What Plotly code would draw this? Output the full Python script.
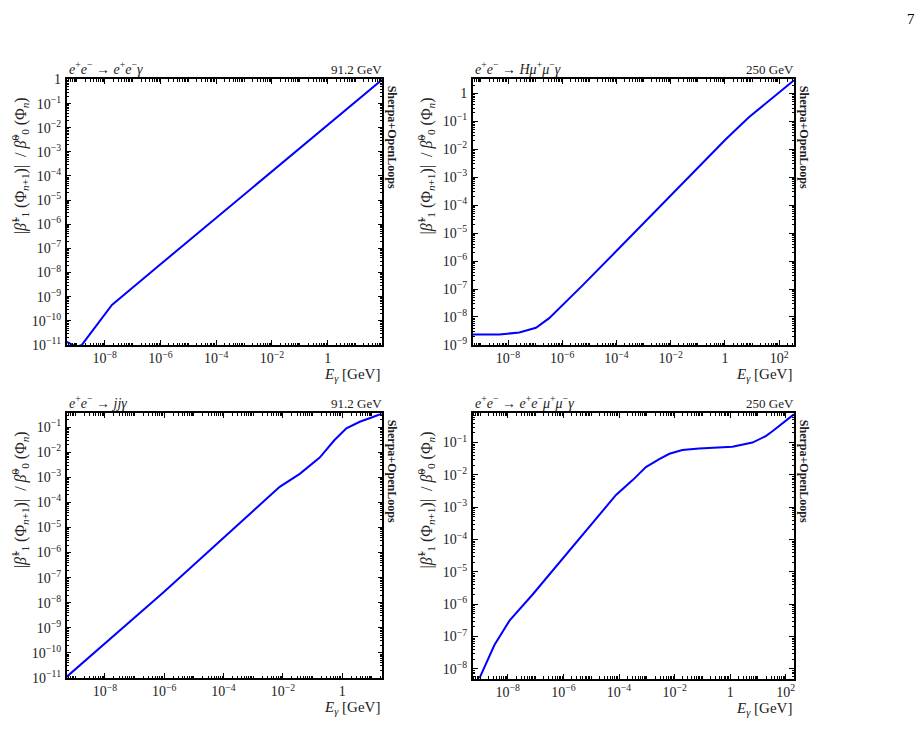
import plotly.graph_objects as go
import numpy as np

# ---------------- data ----------------
p1_E = [4.3e-10, 9.8e-10, 1.5e-9, 1.8e-8, 1e-6, 1e-2, 1.0, 91.2]
p1_R = [1.35e-11, 8.3e-12, 1.0e-11, 4.5e-10, 2.2e-8, 1.55e-4, 1.3e-2, 1.0]

p2_E = [5.0e-10, 4.8e-9, 2.6e-8, 1.07e-7, 3.3e-7, 1.38e-6, 5.6e-6, 9.5e-5, 6.6e-3, 0.11, 1.07, 7.6, 55.0, 350.0]
p2_R = [2.35e-9, 2.35e-9, 2.8e-9, 4.1e-9, 9.1e-9, 3.5e-8, 1.35e-7, 2.2e-6, 1.48e-4, 2.4e-3, 2.3e-2, 0.141, 0.66, 2.95]

p3_E = [5.1e-10, 9.1e-7, 7.8e-3, 3.7e-2, 0.174, 0.55, 1.38, 3.9, 9.8, 22.0]
p3_R = [1.1e-11, 2.5e-8, 4.2e-4, 1.38e-3, 6.2e-3, 3.1e-2, 9.1e-2, 0.166, 0.245, 0.355]

p4_E = [9.5e-10, 3.3e-9, 1.15e-8, 7.8e-8, 7.8e-5, 3.1e-4, 9.3e-4, 2.8e-3, 6.5e-3, 1.9e-2, 7.6e-2, 1.2, 6.3, 19.0, 33.0, 200.0]
p4_R = [5.1e-9, 5.5e-8, 3.1e-7, 2.0e-6, 2.4e-3, 6.9e-3, 1.74e-2, 3.1e-2, 4.5e-2, 5.9e-2, 6.6e-2, 7.4e-2, 0.1, 0.158, 0.224, 0.76]

panels = [
    dict(E=p1_E, R=p1_R, proc="<i>e</i><sup>+</sup><i>e</i><sup>−</sup> → <i>e</i><sup>+</sup><i>e</i><sup>−</sup><i>γ</i>",
         energy="91.2 GeV", xr=[-9.37, 1.96], yr=[-11, 0], ydec=list(range(-11, 1)), xdec=[-8, -6, -4, -2, 0]),
    dict(E=p2_E, R=p2_R, proc="<i>e</i><sup>+</sup><i>e</i><sup>−</sup> → <i>Hμ</i><sup>+</sup><i>μ</i><sup>−</sup><i>γ</i>",
         energy="250 GeV", xr=[-9.3, 2.55], yr=[-9, 0.5], ydec=list(range(-9, 1)), xdec=[-8, -6, -4, -2, 0, 2]),
    dict(E=p3_E, R=p3_R, proc="<i>e</i><sup>+</sup><i>e</i><sup>−</sup> → <i>jjγ</i>",
         energy="91.2 GeV", xr=[-9.29, 1.35], yr=[-11, -0.45], ydec=list(range(-11, 0)), xdec=[-8, -6, -4, -2, 0]),
    dict(E=p4_E, R=p4_R, proc="<i>e</i><sup>+</sup><i>e</i><sup>−</sup> → <i>e</i><sup>+</sup><i>e</i><sup>−</sup><i>μ</i><sup>+</sup><i>μ</i><sup>−</sup><i>γ</i>",
         energy="250 GeV", xr=[-9.26, 2.3], yr=[-8.3, -0.1], ydec=list(range(-8, 0)), xdec=[-8, -6, -4, -2, 0, 2]),
]

W, H = 923, 730
# plot boxes in pixels: (left, right, top, bottom)
boxes = [(66.7, 382.7, 74, 345), (473.3, 795, 74, 345),
         (66.7, 382.7, 415, 685), (473.3, 795, 415, 685.7)]

FONT = "Liberation Serif, DejaVu Serif, serif"


def declabel(d):
    if d == 0:
        return "1"
    return "10<sup>%s</sup>" % (str(d).replace("-", "−"))


def minor_vals(lo, hi):
    vals = []
    for d in range(int(np.floor(lo)) - 1, int(np.ceil(hi)) + 1):
        for k in range(1, 10):
            v = k * 10.0 ** d
            if lo <= np.log10(v) <= hi:
                vals.append(v)
    return vals


fig = go.Figure()
annotations = []
ylab = "|<i>β̃</i><sup>1</sup><sub>1</sub> (Φ<sub><i>n</i>+1</sub>)|  / <i>β̃</i><sup>0</sup><sub>0</sub> (Φ<sub><i>n</i></sub>)"

for i, (p, b) in enumerate(zip(panels, boxes)):
    n = i + 1
    xa = "x" if n == 1 else "x%d" % n
    ya = "y" if n == 1 else "y%d" % n
    fig.add_trace(go.Scatter(x=p["E"], y=p["R"], mode="lines",
                             line=dict(color="#0000ff", width=2),
                             xaxis=xa, yaxis=ya, showlegend=False))
    l, r, t, btm = b
    dx = [l / W, r / W]
    dy = [1 - btm / H, 1 - t / H]
    axcommon = dict(type="log", showgrid=False, zeroline=False, showline=True,
                    linecolor="black", linewidth=1.5, mirror="ticks",
                    ticks="inside", ticklen=5, tickwidth=1, tickcolor="black",
                    tickfont=dict(family=FONT, size=14, color="#222"),
                    tickmode="array")
    xkey = "xaxis" if n == 1 else "xaxis%d" % n
    ykey = "yaxis" if n == 1 else "yaxis%d" % n
    fig.layout[xkey] = dict(axcommon, domain=dx, range=p["xr"], anchor=ya,
                            tickvals=[10.0 ** d for d in p["xdec"]],
                            ticktext=[declabel(d) for d in p["xdec"]],
                            minor=dict(ticks="inside", ticklen=2.5, tickcolor="black",
                                       tickmode="array", tickvals=minor_vals(*p["xr"])))
    fig.layout[ykey] = dict(axcommon, domain=dy, range=p["yr"], anchor=xa, ticklabelstandoff=1,
                            tickvals=[10.0 ** d for d in p["ydec"]],
                            ticktext=[declabel(d) for d in p["ydec"]],
                            minor=dict(ticks="inside", ticklen=2.5, tickcolor="black",
                                       tickmode="array", tickvals=minor_vals(*p["yr"])))
    # process label (top-left)
    annotations.append(dict(x=dx[0], y=dy[1], xref="paper", yref="paper", text=p["proc"],
                            showarrow=False, xanchor="left", yanchor="bottom",
                            font=dict(family=FONT, size=14, color="#222"), yshift=0))
    # energy label (top-right)
    annotations.append(dict(x=dx[1], y=dy[1], xref="paper", yref="paper", text=p["energy"],
                            showarrow=False, xanchor="right", yanchor="bottom",
                            font=dict(family=FONT, size=13, color="#222"), yshift=0, xshift=2))
    # x title
    annotations.append(dict(x=dx[1], y=dy[0], xref="paper", yref="paper",
                            text="<i>E<sub>γ</sub></i> [GeV]",
                            showarrow=False, xanchor="right", yanchor="top",
                            font=dict(family=FONT, size=15, color="#222"), yshift=-19))
    # y title (sits in the upper part of the axis, as in the reference)
    annotations.append(dict(x=dx[0], y=1 - (t + 88) / H, xref="paper", yref="paper",
                            text=ylab, textangle=-90, showarrow=False,
                            xanchor="center", yanchor="middle", xshift=-47,
                            font=dict(family=FONT, size=16, color="#222")))
    # Sherpa+OpenLoops
    annotations.append(dict(x=dx[1], y=dy[1], xref="paper", yref="paper",
                            text="<b>Sherpa+OpenLoops</b>", textangle=90, showarrow=False,
                            xanchor="left", yanchor="top", xshift=1, yshift=-4,
                            font=dict(family=FONT, size=12, color="#222")))

annotations.append(dict(x=912 / W, y=1 - 12 / H, xref="paper", yref="paper", text="7",
                        showarrow=False, xanchor="center", yanchor="middle",
                        font=dict(family=FONT, size=15, color="black")))

fig.update_layout(width=W, height=H, margin=dict(l=0, r=0, t=0, b=0),
                  paper_bgcolor="white", plot_bgcolor="white",
                  annotations=annotations)

fig.write_html("out.html")
